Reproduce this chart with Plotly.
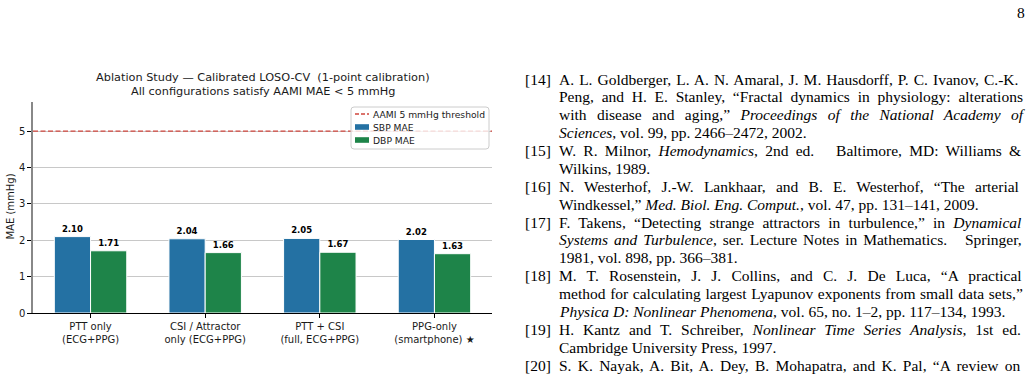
import re
import plotly.graph_objects as go

categories = ["PTT only<br>(ECG+PPG)", "CSI / Attractor<br>only (ECG+PPG)",
              "PTT + CSI<br>(full, ECG+PPG)", "PPG-only<br>(smartphone) ★"]
sbp_mae = [2.10, 2.04, 2.05, 2.02]
dbp_mae = [1.71, 1.66, 1.67, 1.63]
aami_threshold = 5
y_ticks = [0, 1, 2, 3, 4, 5]
legend_names = ["AAMI 5 mmHg threshold", "SBP MAE", "DBP MAE"]

title_lines = ["Ablation Study — Calibrated LOSO-CV  (1-point calibration)",
               "All configurations satisfy AAMI MAE < 5 mmHg"]

ref_labels = ["[14]", "", "", "", "[15]", "", "[16]", "", "[17]", "", "", "[18]", "", "", "[19]", "", "[20]"]
ref_lines = [
    "A. L. Goldberger, L. A. N. Amaral, J. M. Hausdorff, P. C. Ivanov, C.-K.",
    "Peng, and H. E. Stanley, “Fractal dynamics in physiology: alterations",
    "with disease and aging,” <i>Proceedings of the National Academy of</i>",
    "<i>Sciences</i>, vol. 99, pp. 2466–2472, 2002.",
    "W. R. Milnor, <i>Hemodynamics</i>, 2nd ed.   Baltimore, MD: Williams &",
    "Wilkins, 1989.",
    "N. Westerhof, J.-W. Lankhaar, and B. E. Westerhof, “The arterial",
    "Windkessel,” <i>Med. Biol. Eng. Comput.</i>, vol. 47, pp. 131–141, 2009.",
    "F. Takens, “Detecting strange attractors in turbulence,” in <i>Dynamical</i>",
    "<i>Systems and Turbulence</i>, ser. Lecture Notes in Mathematics.   Springer,",
    "1981, vol. 898, pp. 366–381.",
    "M. T. Rosenstein, J. J. Collins, and C. J. De Luca, “A practical",
    "method for calculating largest Lyapunov exponents from small data sets,”",
    "<i>Physica D: Nonlinear Phenomena</i>, vol. 65, no. 1–2, pp. 117–134, 1993.",
    "H. Kantz and T. Schreiber, <i>Nonlinear Time Series Analysis</i>, 1st ed.",
    "Cambridge University Press, 1997.",
    "S. K. Nayak, A. Bit, A. Dey, B. Mohapatra, and K. Pal, “A review on",
]
ref_justified = [1, 1, 1, 0, 1, 0, 1, 0, 1, 1, 0, 1, 1, 0, 1, 0, 1]
page_number = "8"

W, H = 1035, 374
L, R, T, B = 33, 492, 102, 313


def px(x):
    return (x - L) / (R - L)


def py(y):
    return (B - y) / (B - T)


SANS = "DejaVu Sans"
SERIF = "Liberation Serif"
SERIF_SIZE = 15.5
TEXT_X0, TEXT_X1 = 560, 1025

# Times metrics (1/1000 em) used to estimate natural line widths for justification
_rom = dict(zip("ABCDEFGHIJKLMNOPQRSTUVWXYZ",
                [722, 667, 667, 722, 611, 556, 722, 722, 333, 389, 722, 611, 889, 722, 722, 556, 722, 667, 556, 611, 722, 722, 944, 722, 722, 611]))
_rom.update(zip("abcdefghijklmnopqrstuvwxyz",
                [444, 500, 444, 500, 444, 333, 500, 500, 278, 278, 500, 278, 778, 500, 500, 500, 500, 333, 389, 278, 500, 500, 722, 500, 500, 444]))
_ita = dict(zip("ABCDEFGHIJKLMNOPQRSTUVWXYZ",
                [611, 611, 667, 722, 611, 611, 722, 722, 333, 444, 667, 556, 833, 667, 722, 611, 722, 611, 500, 556, 722, 611, 833, 611, 556, 556]))
_ita.update(zip("abcdefghijklmnopqrstuvwxyz",
                [500, 500, 444, 500, 444, 278, 500, 500, 278, 278, 444, 278, 722, 500, 500, 500, 500, 389, 389, 278, 500, 444, 667, 444, 444, 389]))
_common = {" ": 250, ",": 250, ".": 250, "-": 333, "–": 500, "—": 1000, "“": 444, "”": 444,
           "(": 333, ")": 333, "[": 333, "]": 333, "&": 778}
for d in "0123456789":
    _common[d] = 500
_rom.update(_common)
_ita.update(_common)
_rom[":"] = 278
_ita[":"] = 333


def natural_width(line):
    total = 0
    italic = False
    for part in re.split(r"(</?i>)", line):
        if part == "<i>":
            italic = True
        elif part == "</i>":
            italic = False
        else:
            tbl = _ita if italic else _rom
            total += sum(tbl.get(ch, 500) for ch in part)
    return total * SERIF_SIZE / 1000


fig = go.Figure()
fig.add_trace(go.Bar(
    x=categories, y=sbp_mae, name=legend_names[1], marker_color="#2471a3",
    marker_line=dict(color="white", width=1),
    texttemplate="%{y:.2f}", textposition="outside",
    textfont=dict(family=SANS, size=8.5, color="black", weight="bold"),
    cliponaxis=False,
))
fig.add_trace(go.Bar(
    x=categories, y=dbp_mae, name=legend_names[2], marker_color="#1e8449",
    marker_line=dict(color="white", width=1),
    texttemplate="%{y:.2f}", textposition="outside",
    textfont=dict(family=SANS, size=8.5, color="black", weight="bold"),
    cliponaxis=False,
))
RED = "#d0453c"
fig.add_hline(y=aami_threshold, line=dict(color=RED, width=1.3, dash="5px,2.5px"), layer="above")

# ---- legend box (drawn manually to match compact matplotlib legend) ----
lx0, lx1, ly0, ly1, rad = 351, 489, 107, 149, 3
path = (f"M {px(lx0 + rad)},{py(ly0)} L {px(lx1 - rad)},{py(ly0)} Q {px(lx1)},{py(ly0)} {px(lx1)},{py(ly0 + rad)} "
        f"L {px(lx1)},{py(ly1 - rad)} Q {px(lx1)},{py(ly1)} {px(lx1 - rad)},{py(ly1)} "
        f"L {px(lx0 + rad)},{py(ly1)} Q {px(lx0)},{py(ly1)} {px(lx0)},{py(ly1 - rad)} "
        f"L {px(lx0)},{py(ly0 + rad)} Q {px(lx0)},{py(ly0)} {px(lx0 + rad)},{py(ly0)} Z")
fig.add_shape(type="path", path=path, xref="paper", yref="paper", layer="above",
              fillcolor="rgba(255,255,255,0.8)", line=dict(color="#cccccc", width=1))
item_y = [114, 127, 140]
fig.add_shape(type="line", xref="paper", yref="paper", x0=px(355), x1=px(369), y0=py(item_y[0]), y1=py(item_y[0]),
              line=dict(color=RED, width=1.3, dash="4px,2px"), layer="above")
for yy, col in zip(item_y[1:], ["#2471a3", "#1e8449"]):
    fig.add_shape(type="rect", xref="paper", yref="paper", x0=px(355), x1=px(369), y0=py(yy - 2.8), y1=py(yy + 2.8),
                  fillcolor=col, line=dict(width=0), layer="above")

annotations = []
for yy, name in zip(item_y, legend_names):
    annotations.append(dict(text=name, xref="paper", yref="paper", x=px(371), y=py(yy),
                            xanchor="left", yanchor="middle", showarrow=False,
                            font=dict(family=SANS, size=9.2, color="#1a1a1a")))
for i, t in enumerate(title_lines):
    annotations.append(dict(text=t, xref="paper", yref="paper", x=px(262.5), y=py(78 + 13 * i),
                            xanchor="center", yanchor="middle", showarrow=False,
                            font=dict(family=SANS, size=11.3, color="#1a1a1a")))
annotations.append(dict(text="MAE (mmHg)", xref="paper", yref="paper", x=px(10), y=py(206.5),
                        xanchor="center", yanchor="middle", textangle=-90, showarrow=False,
                        font=dict(family=SANS, size=10, color="#1a1a1a")))

line_y0, line_dy = 79, 17.875
target = TEXT_X1 - TEXT_X0
for i, (lab, txt, just) in enumerate(zip(ref_labels, ref_lines, ref_justified)):
    yy = py(line_y0 + line_dy * i)
    if lab:
        annotations.append(dict(text=lab, xref="paper", yref="paper", x=px(522.5), y=yy,
                                xanchor="left", yanchor="middle", showarrow=False,
                                font=dict(family=SERIF, size=SERIF_SIZE, color="black")))
    shown = txt.replace("&", "&amp;")
    if just:
        n_sp = txt.count(" ")
        extra = (target - natural_width(txt)) / n_sp
        shown = f'<span style="word-spacing:{extra:.2f}px">{shown}</span>'
    annotations.append(dict(text=shown, xref="paper", yref="paper", x=px(TEXT_X0 - 3), y=yy,
                            xanchor="left", yanchor="middle", showarrow=False,
                            font=dict(family=SERIF, size=SERIF_SIZE, color="black")))
annotations.append(dict(text=page_number, xref="paper", yref="paper", x=px(1027), y=py(12),
                        xanchor="right", yanchor="middle", showarrow=False,
                        font=dict(family=SERIF, size=SERIF_SIZE, color="black")))

fig.update_layout(
    width=W, height=H, margin=dict(l=L, r=W - R, t=T, b=H - B, pad=0),
    paper_bgcolor="white", plot_bgcolor="white",
    barmode="group", bargap=0.368, bargroupgap=0,
    showlegend=False,
    annotations=annotations,
    font=dict(family=SANS, color="#1a1a1a"),
)
fig.update_xaxes(range=[-0.502, 3.502], showline=True, linecolor="black", linewidth=1.2,
                 ticks="outside", ticklen=4, tickcolor="black", showgrid=False,
                 tickfont=dict(family=SANS, size=10, color="#1a1a1a"), zeroline=False)
fig.update_yaxes(range=[0, 5.8], tickvals=y_ticks, showline=True, linecolor="#888888", linewidth=1.5,
                 ticks="outside", ticklen=4, tickcolor="black", showgrid=True, gridcolor="#c8c8c8",
                 gridwidth=1, zeroline=False, tickfont=dict(family=SANS, size=10, color="#1a1a1a"))

fig.write_html("out.html")
